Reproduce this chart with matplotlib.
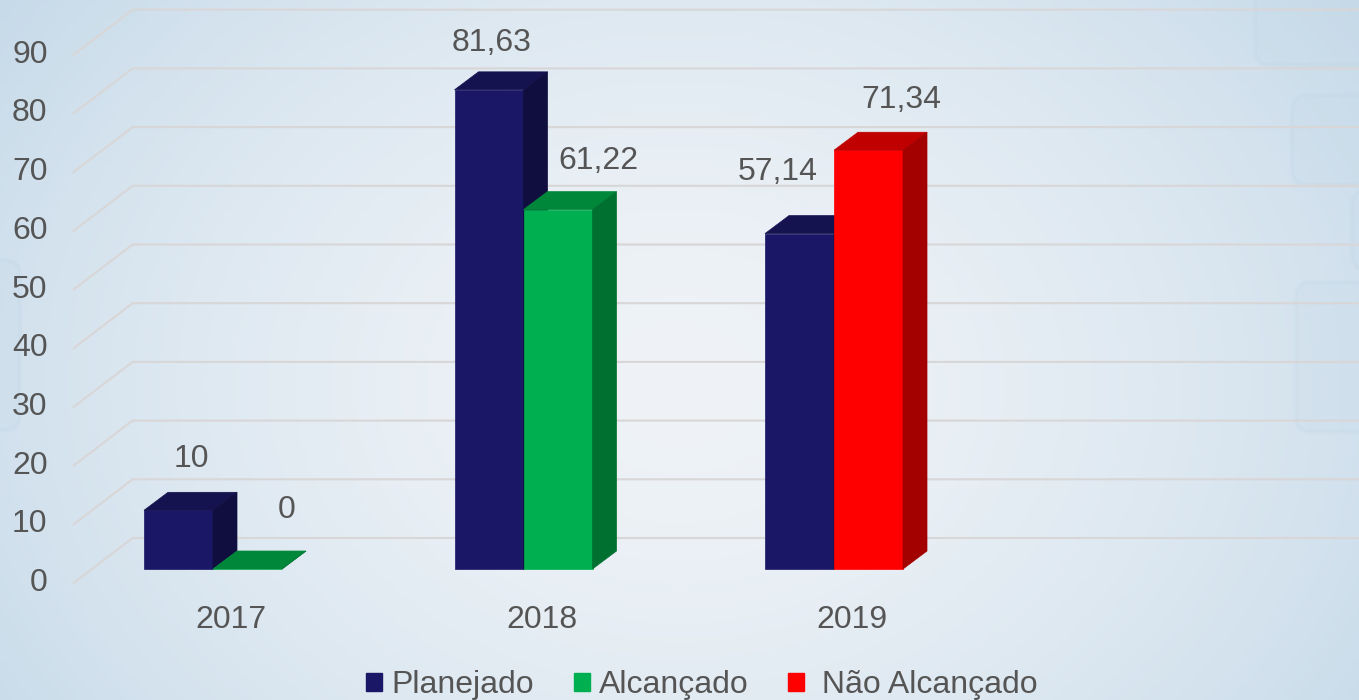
import numpy as np
import matplotlib.pyplot as plt
from matplotlib.patches import Polygon, Patch, FancyBboxPatch

# dados
anos = ["2017", "2018", "2019"]
planejado = [10, 81.63, 57.14]
alcancado = [0, 61.22, np.nan]
nao_alcancado = [np.nan, np.nan, 71.34]
yticks = list(range(0, 100, 10))
rotulos = {
    "planejado": ["10", "81,63", "57,14"],
    "segundo": ["0", "61,22", "71,34"],
}

# cores (frente, topo, lateral)
NAVY = ("#1a1866", "#15134f", "#100e3f")
GREEN = ("#00b050", "#00873a", "#007030")
RED = ("#ff0000", "#c00000", "#a30000")
TXT = "#555555"
GRID = "#d8d6d6"

W, H = 1359, 700
PX_X = 310.5      # pixels per category
PX_Y = 5.87       # pixels per unit value
X0_PX = 213       # cluster centre of first category (front face)
BASE_PX = 131     # bar base from bottom

plt.rcParams["font.family"] = ["Liberation Sans", "DejaVu Sans"]

fig = plt.figure(figsize=(W / 100, H / 100), dpi=100)
ax = fig.add_axes([0, 0, 1, 1])
xmin, xmax = -X0_PX / PX_X, (W - X0_PX) / PX_X
ymin, ymax = -BASE_PX / PX_Y, (H - BASE_PX) / PX_Y
ax.set_xlim(xmin, xmax)
ax.set_ylim(ymin, ymax)
ax.axis("off")


def px(dx, dy):
    return dx / PX_X, dy / PX_Y


# background gradient
gx, gy = np.meshgrid(np.linspace(0, 1, 400), np.linspace(0, 1, 220))
t = np.sqrt(((gx - 0.5) / 0.62) ** 2 + ((gy - 0.45) / 0.95) ** 2)
t = np.clip(t, 0, 1) ** 1.6
c_in = np.array([0xef, 0xf3, 0xf7]) / 255
c_out = np.array([0xc6, 0xda, 0xe9]) / 255
bg = c_in[None, None, :] * (1 - t[..., None]) + c_out[None, None, :] * t[..., None]
ax.imshow(bg, extent=(xmin, xmax, ymin, ymax), aspect="auto", origin="lower", zorder=0)

# faint decorative rounded boxes on the edges
for bx, by, bw, bh in [(1255, 635, 140, 90), (1292, 515, 90, 90),
                       (1352, 430, 40, 80), (1296, 268, 90, 150), (-40, 270, 60, 170)]:
    xx, yy = px(bx - X0_PX, by - BASE_PX)
    ww, hh = px(bw, bh)
    ax.add_patch(FancyBboxPatch((xx, yy), ww, hh,
                                boxstyle="round,pad=0,rounding_size=0.05",
                                mutation_aspect=PX_X / PX_Y,
                                fc="#c4d8e7", ec="#b9cfe1", lw=3, alpha=0.15, zorder=0.5))

# 3d gridlines (front wall -> back wall -> right)
wall = (92 - X0_PX) / PX_X
fx, fy = px(-18.4, -14)
bkx, bky = px(40.6, 31)
for v in yticks:
    ax.plot([wall + fx, wall + bkx, xmax + 0.1], [v + fy, v + bky, v + bky],
            color=GRID, lw=1.5, zorder=1, solid_joinstyle="miter")
    ax.text(wall + fx - 26 / PX_X, v + fy, str(v), ha="right", va="center",
            fontsize=23, color=TXT, zorder=5)

# bars
bw = 69 / PX_X
DX, DY = px(24, 18)


def bar3d(x0, v, cols):
    x1 = x0 + bw
    ax.add_patch(Polygon([(x0, 0), (x1, 0), (x1, v), (x0, v)], closed=True,
                         fc=cols[0], ec=cols[0], lw=0.5, zorder=3))
    ax.add_patch(Polygon([(x0, v), (x1, v), (x1 + DX, v + DY), (x0 + DX, v + DY)],
                         closed=True, fc=cols[1], ec=cols[1], lw=0.5, zorder=3))
    ax.add_patch(Polygon([(x1, 0), (x1 + DX, DY), (x1 + DX, v + DY), (x1, v)],
                         closed=True, fc=cols[2], ec=cols[2], lw=0.5, zorder=3))


# label offsets (pixels) from the top-centre of the bar front face
off_plan = [(12.5, 51), (2.5, 47), (-22, 62)]
off_seg = [(39.5, 59), (40.5, 49), (32.5, 50)]

for i, ano in enumerate(anos):
    xl = i - bw
    bar3d(xl, planejado[i], NAVY)
    if not np.isnan(alcancado[i]):
        v2, cols = alcancado[i], GREEN
    else:
        v2, cols = nao_alcancado[i], RED
    bar3d(i, v2, cols)

    ox, oy = px(*off_plan[i])
    ax.text(xl + bw / 2 + ox, planejado[i] + oy, rotulos["planejado"][i],
            ha="center", va="center", fontsize=23, color=TXT, zorder=5)
    ox, oy = px(*off_seg[i])
    ax.text(i + bw / 2 + ox, v2 + oy, rotulos["segundo"][i],
            ha="center", va="center", fontsize=23, color=TXT, zorder=5)

    ox, oy = px(18, -51)
    ax.text(i + ox, oy, ano, ha="center", va="center", fontsize=23, color=TXT, zorder=5)

handles = [Patch(fc=NAVY[0], ec=NAVY[0]), Patch(fc=GREEN[0], ec=GREEN[0]),
           Patch(fc=RED[0], ec=RED[0])]
leg = fig.legend(handles, ["Planejado", "Alcançado", " Não Alcançado"],
                 loc="center", bbox_to_anchor=(702 / W, 15 / H), ncol=3,
                 frameon=False, fontsize=23, handlelength=0.5, handleheight=0.5,
                 handletextpad=0.28, columnspacing=1.25, borderpad=0,
                 labelcolor=TXT)

fig.savefig("out.png", dpi=100)
